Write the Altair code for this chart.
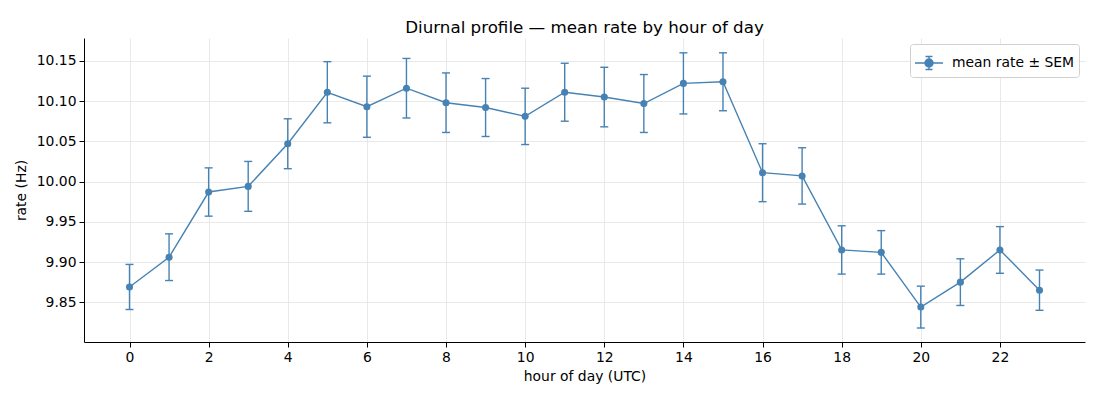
import altair as alt
import pandas as pd

hours = list(range(24))
means = [9.869, 9.906, 9.987, 9.994, 10.047, 10.111, 10.093, 10.116, 10.098, 10.092,
         10.081, 10.111, 10.105, 10.097, 10.122, 10.124, 10.011, 10.007, 9.915, 9.912,
         9.844, 9.875, 9.915, 9.865]
sems = [0.028, 0.029, 0.030, 0.031, 0.031, 0.038, 0.038, 0.037, 0.037, 0.036,
        0.035, 0.036, 0.037, 0.036, 0.038, 0.036, 0.036, 0.035, 0.030, 0.027,
        0.026, 0.029, 0.029, 0.025]
series_name = "mean rate ± SEM"
x_ticks = list(range(0, 24, 2))
y_ticks = [9.85, 9.90, 9.95, 10.00, 10.05, 10.10, 10.15]

df = pd.DataFrame({
    "hour": hours,
    "mean": means,
    "lo": [m - s for m, s in zip(means, sems)],
    "hi": [m + s for m, s in zip(means, sems)],
    "series": [series_name] * len(hours),
})

COLOR = "#4682b4"
FONT = "DejaVu Sans"

xs = alt.Scale(domain=[-1.15, 24.15], nice=False, zero=False)
ys = alt.Scale(domain=[9.8006, 10.1784], nice=False, zero=False)

xax = alt.Axis(values=x_ticks, title="hour of day (UTC)", format="d")
yax = alt.Axis(values=y_ticks, title="rate (Hz)", format=".2f")

base = alt.Chart(df)

bars = base.mark_rule(color=COLOR, strokeWidth=1.4).encode(
    x=alt.X("hour:Q", scale=xs, axis=xax),
    y=alt.Y("lo:Q", scale=ys, axis=yax),
    y2="hi:Q",
)
cap_lo = base.mark_rule(color=COLOR, strokeWidth=1.4, xOffset=-4, x2Offset=4).encode(
    x=alt.X("hour:Q", scale=xs), x2="hour:Q", y=alt.Y("lo:Q", scale=ys)
)
cap_hi = base.mark_rule(color=COLOR, strokeWidth=1.4, xOffset=-4, x2Offset=4).encode(
    x=alt.X("hour:Q", scale=xs), x2="hour:Q", y=alt.Y("hi:Q", scale=ys)
)
line = base.mark_line(color=COLOR, strokeWidth=1.4).encode(
    x=alt.X("hour:Q", scale=xs), y=alt.Y("mean:Q", scale=ys)
)

legend_path = ("M-1,0H1M0,-0.46V0.46M-0.25,-0.46H0.25M-0.25,0.46H0.25"
               "M0.286,0A0.286,0.286,0,1,1,-0.286,0A0.286,0.286,0,1,1,0.286,0Z")

points = base.mark_point(filled=True, size=50, opacity=1).encode(
    x=alt.X("hour:Q", scale=xs),
    y=alt.Y("mean:Q", scale=ys),
    color=alt.Color(
        "series:N",
        scale=alt.Scale(range=[COLOR]),
        legend=alt.Legend(
            title=None,
            orient="top-right",
            offset=6,
            symbolType=legend_path,
            symbolSize=784,
            symbolStrokeColor=COLOR,
            symbolFillColor=COLOR,
            symbolStrokeWidth=1.4,
            symbolOpacity=1,
            labelFontSize=13.9,
            labelFont=FONT,
            labelColor="#000000",
            labelOffset=8,
            padding=4,
            fillColor="white",
            strokeColor="#d0d0d0",
            cornerRadius=3,
        ),
    ),
)

chart = alt.layer(bars, cap_lo, cap_hi, line, points).properties(
    width=1001,
    height=304,
    title=alt.TitleParams(
        "Diurnal profile — mean rate by hour of day",
        fontSize=16.7, fontWeight="normal", font=FONT, color="#000000", offset=1,
    ),
    autosize=alt.AutoSizeParams(type="none"),
    padding={"left": 76, "top": 30, "right": 7, "bottom": 50},
).configure_view(stroke=None).configure_axis(
    labelFont=FONT, titleFont=FONT, labelFontSize=13.9, titleFontSize=13.9,
    labelColor="#000000", titleColor="#000000", titleFontWeight="normal",
    domainColor="#000000", domainWidth=1, tickColor="#000000", tickSize=5, tickWidth=1,
    labelPadding=3, gridColor="#e3e3e3", gridWidth=0.8,
).configure_axisY(titlePadding=8).configure_axisX(titlePadding=6)

chart.save("out.html", embed_options={"renderer": "svg", "actions": False})
